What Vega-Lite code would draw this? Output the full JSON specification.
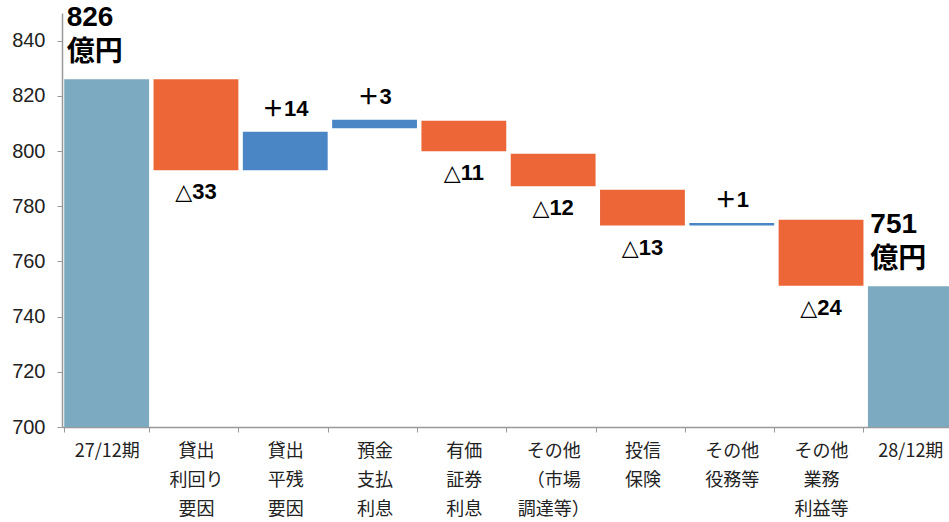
{
  "$schema": "https://vega.github.io/schema/vega-lite/v6.json",
  "autosize": "none",
  "width": 887,
  "height": 414,
  "padding": {"left": 62, "top": 13, "right": 0, "bottom": 95},
  "background": "white",
  "data": {
    "values": [
      {"cat": "27/12期", "lo": 700, "hi": 826, "type": "total", "label": "826\n億円"},
      {"cat": "貸出 利回り 要因", "lo": 793, "hi": 826, "type": "decrease", "label": "△33"},
      {"cat": "貸出 平残 要因", "lo": 793, "hi": 807, "type": "increase", "label": "＋14"},
      {"cat": "預金 支払 利息", "lo": 808.2, "hi": 811.3, "type": "increase", "label": "＋3"},
      {"cat": "有価 証券 利息", "lo": 799.9, "hi": 811, "type": "decrease", "label": "△11"},
      {"cat": "その他 （市場 調達等）", "lo": 787.2, "hi": 799, "type": "decrease", "label": "△12"},
      {"cat": "投信 保険", "lo": 773, "hi": 786, "type": "decrease", "label": "△13"},
      {"cat": "その他 役務等", "lo": 773, "hi": 773.9, "type": "increase", "label": "＋1"},
      {"cat": "その他 業務 利益等", "lo": 751.2, "hi": 775.1, "type": "decrease", "label": "△24"},
      {"cat": "28/12期", "lo": 700, "hi": 751, "type": "total", "label": "751\n億円"}
    ]
  },
  "encoding": {
    "x": {
      "field": "cat",
      "type": "nominal",
      "sort": null,
      "scale": {"range": [0, 893], "paddingInner": 0.05, "paddingOuter": 0.025},
      "axis": {
        "title": null,
        "labelAngle": 0,
        "labelExpr": "split(datum.label, ' ')",
        "labelFont": "Noto Sans CJK JP",
        "labelFontSize": 18,
        "labelColor": "#222",
        "labelLineHeight": 29,
        "labelPadding": 10,
        "tickBand": "extent",
        "tickSize": 5,
        "tickColor": "#999",
        "domainColor": "#999",
        "domainWidth": 1.5,
        "labelOverlap": false
      }
    }
  },
  "layer": [
    {
      "mark": {"type": "bar", "clip": false},
      "encoding": {
        "y": {
          "field": "lo",
          "type": "quantitative",
          "scale": {"domain": [700, 850], "nice": false, "zero": false},
          "axis": {
            "title": null,
            "values": [700, 720, 740, 760, 780, 800, 820, 840],
            "grid": false,
            "labelFont": "Liberation Sans",
            "labelFontSize": 20,
            "labelColor": "#222",
            "labelPadding": 12,
            "tickSize": 5,
            "tickColor": "#999",
            "domainColor": "#999",
            "domainWidth": 1.5
          }
        },
        "y2": {"field": "hi"},
        "color": {
          "field": "type",
          "type": "nominal",
          "scale": {"domain": ["total", "decrease", "increase"], "range": ["#7BAAC1", "#EC6638", "#4A86C5"]},
          "legend": null
        }
      }
    },
    {
      "transform": [{"filter": "datum.type === 'increase'"}],
      "mark": {"type": "text", "font": "Liberation Sans, DejaVu Sans, Noto Sans CJK JP", "fontSize": 22, "fontWeight": "bold", "color": "black", "baseline": "middle", "dy": -23},
      "encoding": {
        "y": {"field": "hi", "type": "quantitative"},
        "text": {"field": "label"}
      }
    },
    {
      "transform": [{"filter": "datum.type === 'decrease'"}],
      "mark": {"type": "text", "font": "Liberation Sans, DejaVu Sans, Noto Sans CJK JP", "fontSize": 22, "fontWeight": "bold", "color": "black", "baseline": "middle", "dy": 22},
      "encoding": {
        "y": {"field": "lo", "type": "quantitative"},
        "text": {"field": "label"}
      }
    },
    {
      "transform": [{"filter": "datum.type === 'total'"}],
      "mark": {"type": "text", "font": "Liberation Sans, Noto Sans CJK JP", "fontSize": 28, "fontWeight": "bold", "color": "black", "baseline": "top", "align": "left", "dy": -75, "dx": -40, "lineBreak": "\n", "lineHeight": 35},
      "encoding": {
        "y": {"field": "hi", "type": "quantitative"},
        "text": {"field": "label"}
      }
    }
  ],
  "config": {"view": {"stroke": null}}
}
